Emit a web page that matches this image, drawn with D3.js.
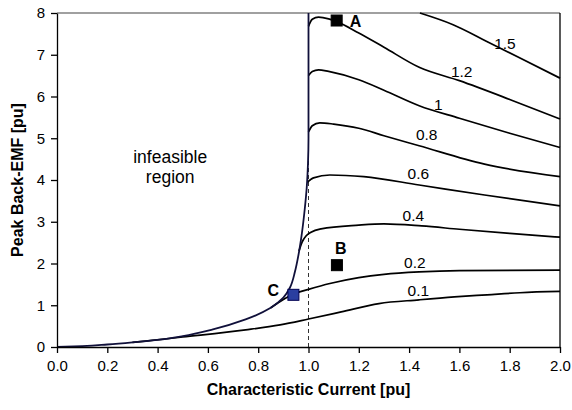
<!DOCTYPE html>
<meta charset="utf-8">
<style>
body { margin: 0; background: #fff; }
svg { font-family: Arial, "Liberation Sans", sans-serif; }
.axis path, .axis line { stroke: #000; stroke-width: 1.3px; }
.axis text { font-size: 15px; fill: #000; }
.curve { fill: none; stroke: #000; stroke-width: 1.7px; }
.boundary { fill: none; stroke: #10103a; stroke-width: 1.8px; }
.dash { stroke: #333; stroke-width: 1px; stroke-dasharray: 4,3; }
.clabel { font-size: 15.5px; text-anchor: middle; }
.title { font-size: 16px; font-weight: bold; text-anchor: middle; }
.mlabel { font-size: 16px; font-weight: bold; }
</style>
<svg width="572" height="410"></svg>
<script src="https://d3js.org/d3.v7.min.js"></script>
<script>

var xTicks = [0, 0.2, 0.4, 0.6, 0.8, 1.0, 1.2, 1.4, 1.6, 1.8, 2.0],
    yTicks = [0, 1, 2, 3, 4, 5, 6, 7, 8];

// envelope of the feasible region
var boundary = [[0, 0], [0.1, 0.02], [0.2, 0.06], [0.3, 0.11], [0.4, 0.17], [0.5, 0.26],
  [0.62, 0.42], [0.75, 0.66], [0.85, 0.94], [0.9, 1.18], [0.926, 1.42], [0.946, 1.8],
  [0.96, 2.2], [0.972, 2.65], [0.985, 3.3], [0.993, 3.82], [0.998, 4.4], [1.0, 5.0], [1.0, 8]];

// each curve from where it leaves the envelope
var curve01 = [[0.3, 0.11], [0.5, 0.24], [0.75, 0.41], [0.887, 0.53], [1.0, 0.67], [1.13, 0.84],
  [1.28, 1.04], [1.44, 1.13], [1.58, 1.2], [1.71, 1.25], [1.84, 1.3], [2.0, 1.33]];
var curve02 = [[0.85, 0.94], [0.9, 1.14], [0.94, 1.27], [1.0, 1.38], [1.085, 1.52], [1.2, 1.66],
  [1.3, 1.74], [1.44, 1.8], [1.6, 1.83], [2.0, 1.84]];
var curve04 = [[0.962, 2.3], [0.975, 2.52], [0.99, 2.66], [1.01, 2.75], [1.05, 2.83], [1.2, 2.92],
  [1.3, 2.95], [1.45, 2.9], [1.6, 2.82], [1.8, 2.72], [2.0, 2.63]];
var curve06 = [[0.996, 3.95], [1.02, 4.05], [1.085, 4.12], [1.22, 4.08], [1.44, 3.88], [1.7, 3.64], [2.0, 3.38]];
var curve08 = [[1.0, 5.15], [1.015, 5.3], [1.045, 5.37], [1.1, 5.34], [1.2, 5.24], [1.3, 5.06],
  [1.44, 4.82], [1.7, 4.38], [2.0, 4.08]];
var curve10 = [[1.0, 6.5], [1.015, 6.6], [1.04, 6.64], [1.08, 6.6], [1.2, 6.4], [1.3, 6.15],
  [1.44, 5.78], [1.6, 5.48], [1.8, 5.12], [2.0, 4.78]];
var curve12 = [[1.0, 7.68], [1.015, 7.85], [1.04, 7.9], [1.08, 7.86], [1.11, 7.8], [1.2, 7.52],
  [1.3, 7.18], [1.44, 6.7], [1.6, 6.38], [1.8, 5.93], [2.0, 5.46]];
var curve15 = [[1.443, 8.0], [1.575, 7.72], [1.709, 7.32], [1.841, 6.92], [2.0, 6.44]];

var curves = [curve01, curve02, curve04, curve06, curve08, curve10, curve12, curve15];
var curveNames = ["0.1", "0.2", "0.4", "0.6", "0.8", "1", "1.2", "1.5"];
// where each name is written, in data units
var labelAt = [[1.437, 1.36], [1.423, 2.02], [1.417, 3.14], [1.437, 4.16], [1.47, 5.08],
  [1.516, 5.8], [1.609, 6.6], [1.781, 7.28]];

var points = [
  {name: "A", x: 1.112, y: 7.82},
  {name: "B", x: 1.113, y: 1.96},
  {name: "C", x: 0.94, y: 1.25}
];

var svg = d3.select("svg"),
    margin = {top: 13, right: 12, bottom: 63, left: 57},
    width = +svg.attr("width") - margin.left - margin.right,
    height = +svg.attr("height") - margin.top - margin.bottom;

var g = svg.append("g").attr("transform", "translate(" + margin.left + "," + margin.top + ")");

var x = d3.scaleLinear().domain([0, 2]).range([0, width]),
    y = d3.scaleLinear().domain([0, 8]).range([height, 0]);

// frame top and right
g.append("line").attr("x1", 0).attr("x2", width).attr("y1", 0).attr("y2", 0)
    .attr("stroke", "#808080").attr("stroke-width", 1.3);
g.append("line").attr("x1", width).attr("x2", width).attr("y1", 0).attr("y2", height)
    .attr("stroke", "#000").attr("stroke-width", 1.3);

g.append("line").attr("class", "dash")
    .attr("x1", x(1)).attr("x2", x(1)).attr("y1", y(0)).attr("y2", y(8));

var lineX = d3.line().x(function(d) { return x(d[0]); }).y(function(d) { return y(d[1]); })
    .curve(d3.curveMonotoneX);
var lineY = d3.line().x(function(d) { return x(d[0]); }).y(function(d) { return y(d[1]); })
    .curve(d3.curveMonotoneY);

g.selectAll(".curve").data(curves).enter().append("path")
    .attr("class", "curve").attr("d", lineX);

g.append("path").datum(boundary).attr("class", "boundary").attr("d", lineY);

g.selectAll(".clabel").data(curveNames).enter().append("text")
    .attr("class", "clabel")
    .attr("x", function(d, i) { return x(labelAt[i][0]); })
    .attr("y", function(d, i) { return y(labelAt[i][1]); })
    .attr("dy", "0.36em")
    .text(function(d) { return d; });

g.append("text").attr("class", "clabel").style("font-size", "17.5px")
    .attr("x", x(0.45)).attr("y", y(4.4)).text("infeasible");
g.append("text").attr("class", "clabel").style("font-size", "17.5px")
    .attr("x", x(0.45)).attr("y", y(3.92)).text("region");

var xAxis = g.append("g").attr("class", "axis")
    .attr("transform", "translate(0," + height + ")")
    .call(d3.axisBottom(x).tickValues(xTicks).tickFormat(d3.format(".1f"))
      .tickSize(6).tickSizeOuter(0).tickPadding(7));
var yAxis = g.append("g").attr("class", "axis")
    .call(d3.axisLeft(y).tickValues(yTicks).tickFormat(d3.format("d"))
      .tickSize(6).tickSizeOuter(0).tickPadding(6));

// marked operating points
g.selectAll(".pt").data(points).enter().append("rect")
    .attr("class", "pt")
    .attr("x", function(d) { return x(d.x) - 5.5; })
    .attr("y", function(d) { return y(d.y) - 5.5; })
    .attr("width", 11).attr("height", 11)
    .attr("fill", function(d) { return d.name == "C" ? "#2a3fa0" : "#000"; })
    .attr("stroke", function(d) { return d.name == "C" ? "#000050" : "#000"; })
    .attr("stroke-width", 1);

g.selectAll(".mlabel").data(points).enter().append("text")
    .attr("class", "mlabel")
    .attr("x", function(d) { return x(d.x) + (d.name == "A" ? 13 : d.name == "B" ? -2 : -26); })
    .attr("y", function(d) { return y(d.y) + (d.name == "A" ? 6 : d.name == "B" ? -11 : 1); })
    .text(function(d) { return d.name; });

svg.append("text").attr("class", "title")
    .attr("x", margin.left + width / 2).attr("y", 395)
    .text("Characteristic Current [pu]");
svg.append("text").attr("class", "title")
    .attr("transform", "translate(23," + (margin.top + height / 2) + ") rotate(-90)")
    .text("Peak Back-EMF [pu]");

</script>
